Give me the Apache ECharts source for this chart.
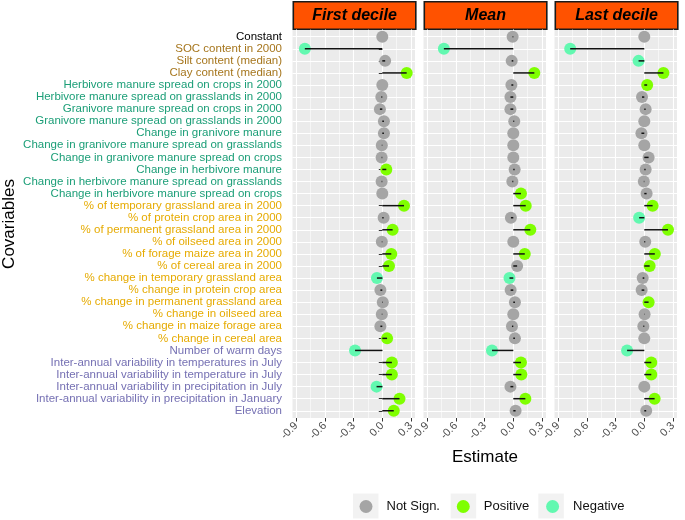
<!DOCTYPE html>
<html>
<head>
<meta charset="utf-8">
<script src="https://cdn.jsdelivr.net/npm/echarts@6/dist/echarts.min.js"></script>
<style>html,body{margin:0;padding:0;background:#fff}#c{width:685px;height:520px}</style>
</head>
<body>
<div id="c"></div>
<script>
const categories = [
  "Constant",
  "SOC content in 2000",
  "Silt content (median)",
  "Clay content (median)",
  "Herbivore manure spread on crops in 2000",
  "Herbivore manure spread on grasslands in 2000",
  "Granivore manure spread on crops in 2000",
  "Granivore manure spread on grasslands in 2000",
  "Change in granivore manure",
  "Change in granivore manure spread on grasslands",
  "Change in granivore manure spread on crops",
  "Change in herbivore manure",
  "Change in herbivore manure spread on grasslands",
  "Change in herbivore manure spread on crops",
  "% of temporary grassland area in 2000",
  "% of protein crop area in 2000",
  "% of permanent grassland area in 2000",
  "% of oilseed area in 2000",
  "% of forage maize area in 2000",
  "% of cereal area in 2000",
  "% change in temporary grassland area",
  "% change in protein crop area",
  "% change in permanent grassland area",
  "% change in oilseed area",
  "% change in maize forage area",
  "% change in cereal area",
  "Number of warm days",
  "Inter-annual variability in temperatures in July",
  "Inter-annual variability in temperature in July",
  "Inter-annual variability in precipitation in July",
  "Inter-annual variability in precipitation in January",
  "Elevation"
];
const groups = ["const","soil","soil","soil",
  "manure","manure","manure","manure","manure","manure","manure","manure","manure","manure",
  "land","land","land","land","land","land","land","land","land","land","land","land",
  "climate","climate","climate","climate","climate","climate"];

const panelTitles = ["First decile", "Mean", "Last decile"];

const firstDecile = [0.0, -0.81, 0.03, 0.255, 0.0, -0.01, -0.025, 0.017, 0.017, -0.005, -0.007, 0.042, -0.007, 0.0,
  0.227, 0.014, 0.108, -0.005, 0.094, 0.07, -0.056, -0.02, 0.005, -0.005, -0.02, 0.05,
  -0.285, 0.10, 0.10, -0.06, 0.18, 0.12];
const firstClass = ["ns","neg","ns","pos","ns","ns","ns","ns","ns","ns","ns","pos","ns","ns",
  "pos","ns","pos","ns","pos","pos","neg","ns","ns","ns","ns","pos",
  "neg","pos","pos","neg","pos","pos"];

const meanValues = [-0.007, -0.726, -0.017, 0.22, -0.02, -0.03, -0.03, 0.01, 0.0, 0.0, 0.0, 0.014, -0.01, 0.08,
  0.13, -0.025, 0.178, 0.0, 0.12, 0.04, -0.04, -0.028, 0.017, 0.0, -0.014, 0.017,
  -0.223, 0.08, 0.084, -0.03, 0.126, 0.024];
const meanClass = ["ns","neg","ns","pos","ns","ns","ns","ns","ns","ns","ns","ns","ns","pos",
  "pos","ns","pos","ns","pos","ns","neg","ns","ns","ns","ns","ns",
  "neg","pos","pos","ns","pos","ns"];

const lastDecile = [0.0, -0.775, -0.06, 0.2, 0.03, -0.024, 0.014, 0.0, -0.03, 0.0, 0.045, 0.014, -0.005, 0.024,
  0.087, -0.054, 0.248, 0.01, 0.11, 0.056, -0.017, -0.028, 0.045, 0.003, -0.01, 0.0,
  -0.18, 0.073, 0.073, 0.0, 0.108, 0.02];
const lastClass = ["ns","neg","neg","pos","pos","ns","ns","ns","ns","ns","ns","ns","ns","ns",
  "pos","neg","pos","ns","pos","pos","ns","ns","pos","ns","ns","ns",
  "neg","pos","pos","ns","pos","ns"];

const xTicks = [-0.9, -0.6, -0.3, 0.0, 0.3];
const xMinorTicks = [-0.75, -0.45, -0.15, 0.15];
const classNames = {ns: "Not Sign.", pos: "Positive", neg: "Negative"};

// ---- styling ----
const FONT = "Liberation Sans, Arial, Helvetica, sans-serif";
const groupColors = {const: "#000000", soil: "#A6761D", manure: "#1B9E77", land: "#E6AB02", climate: "#7570B3"};
const classColors = {ns: "#A5A5A5", pos: "#7FFF00", neg: "#62F8B0"};
const panelLefts = [292.5, 423.5, 554.5];
const panelWidth = 122.5;
const panelTop = 29.5;
const panelHeight = 388.5;
const xMin = -0.939, xMax = 0.342;
const yTicks = categories.map((c, i) => i + 1);

const panels = [[firstDecile, firstClass], [meanValues, meanClass], [lastDecile, lastClass]];

const grid = [], xAxis = [], yAxis = [], series = [], graphic = [];
panels.forEach((p, k) => {
  grid.push({left: panelLefts[k], top: panelTop, width: panelWidth, height: panelHeight,
    show: true, backgroundColor: "#EBEBEB", borderWidth: 0, containLabel: false});
  xAxis.push({type: "value", gridIndex: k, min: xMin, max: xMax,
    axisLine: {show: false},
    axisTick: {show: true, length: 3.5, customValues: xTicks, lineStyle: {color: "#333333", width: 1}},
    axisLabel: {show: true, customValues: xTicks, rotate: 45, margin: 6, fontSize: 11, color: "#4D4D4D",
      fontFamily: FONT, formatter: v => Number(v).toFixed(1)},
    splitLine: {show: true, lineStyle: {color: "#FFFFFF", width: 1.1}}
  });
  yAxis.push({type: "value", gridIndex: k, min: 0.4, max: 32.6, inverse: true,
    axisLine: {show: false},
    axisTick: {show: k === 0, length: 3.5, customValues: yTicks, lineStyle: {color: "#333333", width: 1}},
    axisLabel: {show: k === 0, customValues: yTicks, margin: 10.5, fontSize: 11.5, fontFamily: FONT,
      formatter: v => categories[Math.round(+v) - 1] || "",
      color: v => groupColors[groups[Math.round(+v) - 1]] || "#000"},
    splitLine: {show: true, lineStyle: {color: "#FFFFFF", width: 1.1}}
  });
});
panels.forEach((p, k) => {
  xAxis.push({type: "value", gridIndex: k, min: xMin, max: xMax, position: "top",
    axisLine: {show: false},
    axisTick: {show: false, customValues: xMinorTicks},
    axisLabel: {show: false, customValues: xMinorTicks},
    splitLine: {show: true, lineStyle: {color: "#FFFFFF", width: 0.55}}
  });
});

panels.forEach((p, k) => {
  const vals = p[0], cls = p[1];
  ["ns", "pos", "neg"].forEach(c => {
    series.push({
      type: "scatter", name: classNames[c], xAxisIndex: k, yAxisIndex: k,
      symbol: "circle", symbolSize: 12, z: 2,
      itemStyle: {color: classColors[c], opacity: 1},
      emphasis: {disabled: true},
      data: vals.map((v, i) => cls[i] === c ? [v, i + 1] : null).filter(d => d)
    });
  });
  series.push({
    type: "custom", xAxisIndex: k, yAxisIndex: k, z: 5, silent: true,
    data: vals.map((v, i) => [v, i + 1]),
    renderItem: (params, api) => {
      const a = api.coord([0, api.value(1)]);
      const b = api.coord([api.value(0), api.value(1)]);
      return {type: "line", shape: {x1: a[0], y1: a[1], x2: b[0], y2: b[1]},
        style: {stroke: "#111111", lineWidth: 1.5}};
    }
  });
  graphic.push({type: "group", left: panelLefts[k], top: 1, children: [
    {type: "rect", shape: {x: 0, y: 0, width: panelWidth, height: 27.5},
      style: {fill: "#FF5200", stroke: "#1A1A1A", lineWidth: 1.6}},
    {type: "text", x: panelWidth / 2, y: 14,
      style: {text: panelTitles[k], font: "italic bold 16px " + FONT, fill: "#000",
        textAlign: "center", textVerticalAlign: "middle"}}
  ]});
});

// legend key backgrounds
[353, 450.7, 538.3].forEach(x => {
  graphic.push({type: "rect", left: x, top: 493.5, shape: {x: 0, y: 0, width: 25.5, height: 25},
    style: {fill: "#F2F2F2"}, z: -1});
});
// y-axis title
graphic.push({type: "text", x: 9, y: 224, rotation: Math.PI / 2,
  style: {text: "Covariables", font: "17px " + FONT, fill: "#000", textAlign: "center", textVerticalAlign: "middle"}});

const option = {
  animation: false,
  backgroundColor: "#FFFFFF",
  grid, xAxis, yAxis, series, graphic,
  legend: {
    data: [
      {name: "Not Sign.", icon: "circle"},
      {name: "Positive", icon: "circle"},
      {name: "Negative", icon: "circle"}
    ],
    left: 359.5, top: 500, padding: 0, itemWidth: 13, itemHeight: 13, itemGap: 16.8, selectedMode: false,
    textStyle: {fontSize: 13, color: "#111111", fontFamily: FONT, padding: [0, 0, 0, 9]}
  },
  title: [
    {text: "Estimate", left: 485, top: 449, textAlign: "center", padding: 0,
      textStyle: {fontSize: 17, fontWeight: "normal", color: "#000", fontFamily: FONT}}
  ]
};

const chart = echarts.init(document.getElementById("c"), null, {renderer: "canvas"});
chart.setOption(option);
</script>
</body>
</html>
